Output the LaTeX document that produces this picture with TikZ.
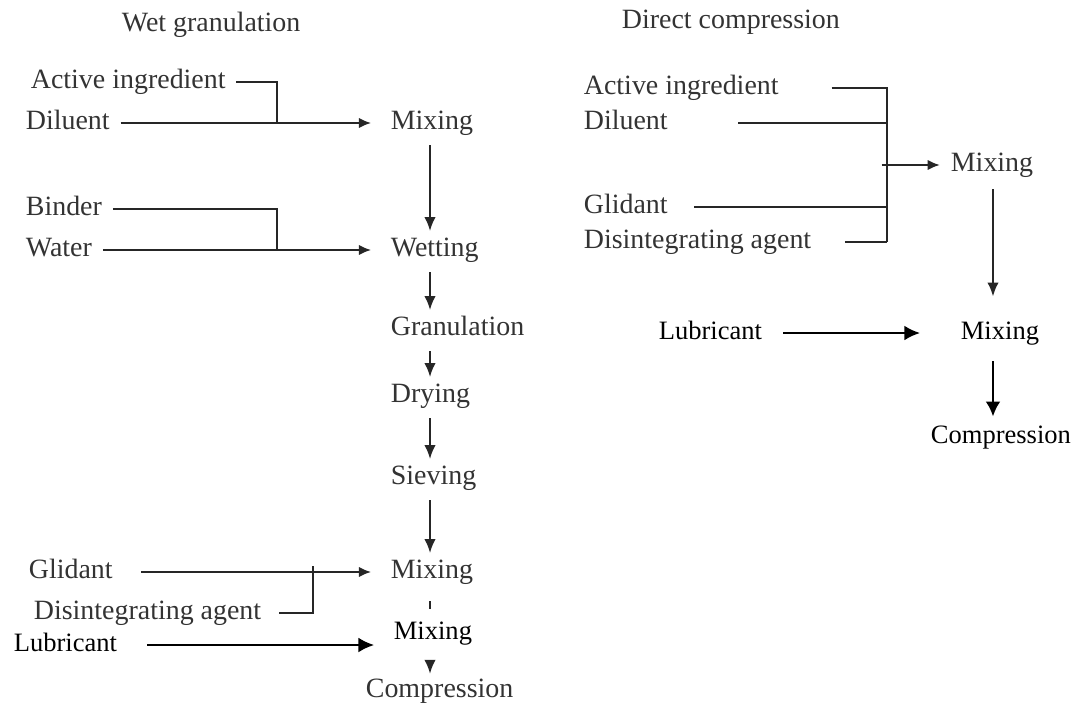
\documentclass[tikz,border=0pt]{standalone}
\usepackage{fontspec}
\setmainfont{Liberation Serif}
\usetikzlibrary{arrows.meta}

\begin{document}
\begin{tikzpicture}[x=0.02cm, y=-0.02cm,
        lbl/.style={anchor=west, inner xsep=6pt, inner ysep=2pt, text height=11pt, text depth=4pt,
            text=black!80, font=\fontsize{15.9}{19}\selectfont},
        blbl/.style={lbl, text=black, font=\fontsize{15.1}{18}\selectfont},
        flow/.style={draw=black!85, line width=1.35pt},
        harr/.style={flow, -{Latex[length=7pt,width=6pt]}},
        varr/.style={flow, -{Latex[length=8pt,width=6.5pt]}, shorten <=3pt, shorten >=1pt},
        barr/.style={draw=black, line width=1.4pt, -{Latex[length=9pt,width=8.5pt]}}]

        \useasboundingbox (0,0) rectangle (1075,704);

        % Wet granulation
        \node[lbl] (tWet) at (111,25) {Wet granulation};
        \node[lbl] (ai1) at (20,82) {Active ingredient};
        \node[lbl] (dil1) at (15,123) {Diluent};
        \node[lbl] (bin) at (15,209) {Binder};
        \node[lbl] (wat) at (15,250) {Water};
        \node[lbl] (gl1) at (18,572) {Glidant};
        \node[lbl] (dis1) at (23,613) {Disintegrating agent};
        \node[blbl] (lubL) at (3,645) {Lubricant};

        \node[lbl] (mixA) at (380,123) {Mixing};
        \node[lbl] (wet) at (380,250) {Wetting};
        \node[lbl] (gran) at (380,329) {Granulation};
        \node[lbl] (dry) at (380,396) {Drying};
        \node[lbl] (siev) at (380,478) {Sieving};
        \node[lbl] (mixB) at (380,572) {Mixing};
        \node[blbl] (mixC) at (383,633) {Mixing};
        \node[lbl] (comp1) at (355,691) {Compression};

        \coordinate (col) at (430,0);
        \coordinate (j1) at (277,123);
        \coordinate (j2) at (277,250);
        \coordinate (j3) at (313,566);

        % Inputs
        \draw[flow] (ai1.east) -| (j1);
        \draw[harr, shorten >=5pt] (dil1) -- (mixA);
        \draw[flow] (bin.east) -| (j2);
        \draw[harr, shorten >=5pt] (wat) -- (wet);
        \draw[harr, shorten >=5pt] ([xshift=10pt]gl1.east) -- (mixB.west);
        \draw[flow] ([xshift=4pt]dis1.east) -| (j3);
        \draw[barr, shorten >=5pt] ([xshift=11pt]lubL.east) -- (lubL.east -| mixC.west);

        % Process steps
        \foreach \a/\b in {mixA/wet, wet/gran, gran/dry, dry/siev, siev/mixB} {
            \draw[varr] (\a.south -| col) -- (\b.north -| col);
        }
        \draw[flow] ([yshift=-7pt]mixB.south -| col) -- ++(0,8);
        \draw[varr, shorten <=8pt, shorten >=0pt] (mixC.south -| col) -- (comp1.north -| col);

        % Direct compression
        \node[lbl] (tDir) at (611,22) {Direct compression};
        \node[lbl] (ai2) at (573,88) {Active ingredient};
        \node[lbl] (dil2) at (573,123) {Diluent};
        \node[lbl] (gl2) at (573,207) {Glidant};
        \node[lbl] (dis2) at (573,242) {Disintegrating agent};
        \node[lbl] (mixR1) at (940,165) {Mixing};
        \node[blbl] (lubR) at (648,333) {Lubricant};
        \node[blbl] (mixR2) at (950,333) {Mixing};
        \node[blbl] (compR) at (920,437) {Compression};

        \coordinate (colR) at (993,0);
        \coordinate (brB) at (887,242);

        \draw[flow] ([xshift=24pt]ai2.east) -| (brB);
        \draw[flow] ([xshift=34pt]dil2.east) -- (dil2 -| brB);
        \draw[flow] ([xshift=9pt]gl2.east) -- (gl2 -| brB);
        \draw[flow] ([xshift=13pt]dis2.east) -- (brB);
        \draw[harr] ([xshift=-3pt]mixR1.west -| brB) -- (mixR1.west);
        \draw[varr, shorten <=4pt, shorten >=11pt] (mixR1.south -| colR) -- (mixR2.north -| colR);

        \draw[barr, shorten >=17pt] ([xshift=6pt]lubR.east) -- (mixR2.west);
        \draw[barr, -{Latex[length=8.5pt,width=8.5pt]}, shorten <=6.5pt, shorten >=2pt] (mixR2.south -| colR) -- (compR.north -| colR);
    \end{tikzpicture}
\end{document}
